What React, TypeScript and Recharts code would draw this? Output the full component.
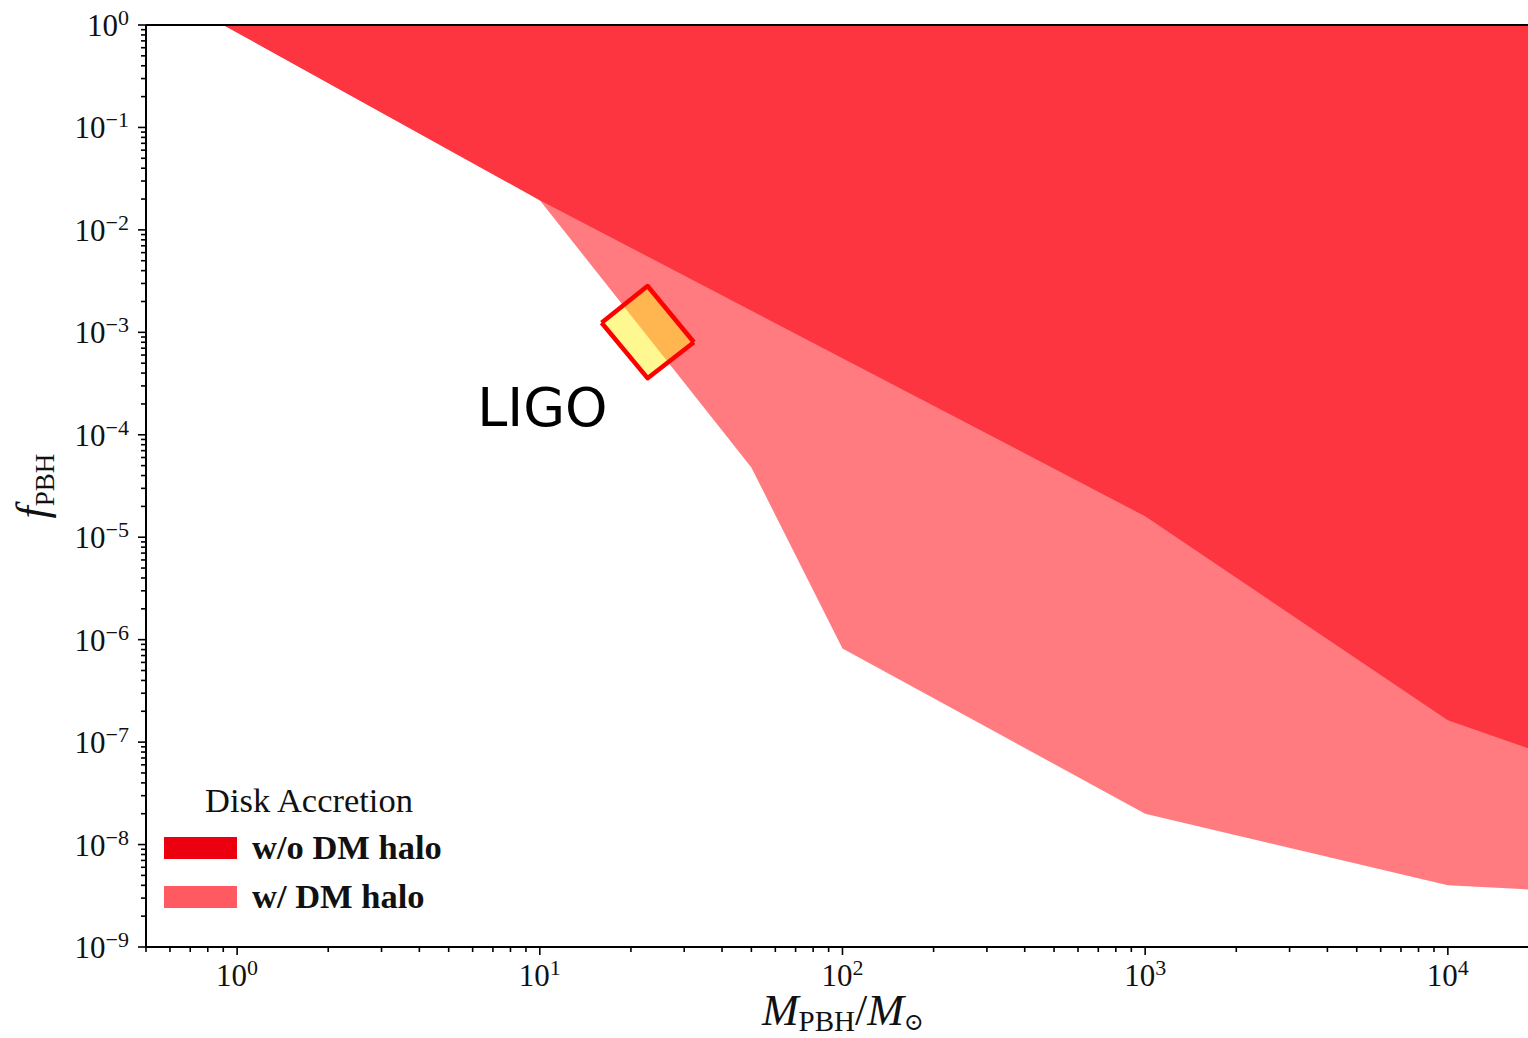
import React from "react";
import {
  Area,
  ComposedChart,
  Legend,
  ReferenceDot,
  ReferenceLine,
  XAxis,
  YAxis,
} from "recharts";

// disk accretion bound without DM halo (boundary below the excluded region)
const massNoHalo = [0.9, 10, 100, 1000, 10000, 18400];
const fNoHalo = [1, 0.0195, 5.6e-4, 1.6e-5, 1.63e-7, 8.7e-8];

// disk accretion bound with DM halo
const massHalo = [0.9, 10, 50, 100, 1000, 10000, 18400];
const fHalo = [1, 0.0195, 4.8e-5, 8.2e-7, 2e-8, 4e-9, 3.65e-9];

// LIGO box corners (left, top/bottom, right)
const ligoMass = [16.0, 22.7, 32.3];
const ligoLow = [1.24e-3, 3.57e-4, 8.0e-4];
const ligoHigh = [1.24e-3, 2.83e-3, 8.0e-4];
const ligoLabel = { mass: 10.2, f: 1.86e-4, text: "LIGO" };

const fTop = 1;
const xDomain = [0.5, 18400];
const yDomain = [1e-9, 1];

const xExponents = [-1, 0, 1, 2, 3, 4];
const yExponents = [-9, -8, -7, -6, -5, -4, -3, -2, -1, 0];

const legendTitle = "Disk Accretion";
const legendNames = ["w/o DM halo", "w/ DM halo"];
const legendColors = ["#ec0010", "#ff5961"];

const regionNoHalo = "#fd3541";
const regionHalo = "#ff7b80";

const SERIF = "'Liberation Serif', 'DejaVu Serif', serif";

const noHaloData = massNoHalo.map((m, i) => ({ m, f: [fNoHalo[i], fTop] }));
const haloData = massHalo.map((m, i) => ({ m, f: [fHalo[i], fTop] }));
const ligoData = ligoMass.map((m, i) => ({ m, f: [ligoLow[i], ligoHigh[i]] }));

function logTicks(exps: number[], domain: number[]) {
  const out: number[] = [];
  exps.forEach((k) => {
    for (let mult = 1; mult <= 9; mult++) {
      const v = Number(`${mult}e${k}`);
      if (v >= domain[0] - 1e-12 && v <= domain[1]) out.push(v);
    }
  });
  return out;
}

const xTicks = logTicks(xExponents, xDomain);
const yTicks = logTicks(yExponents, yDomain);

function exponentOf(v: number) {
  const e = Math.log10(v);
  const r = Math.round(e);
  return Math.abs(e - r) < 1e-9 ? r : null;
}

function fmtExp(e: number) {
  return e < 0 ? `\u2212${-e}` : `${e}`;
}

function XTick(props: any) {
  const { x, y, payload } = props;
  const e = exponentOf(payload.value);
  const major = e !== null;
  return (
    <g>
      <line x1={x} x2={x} y1={y} y2={y + (major ? 8 : 5)} stroke="#000" strokeWidth={1.6} />
      {major && (
        <text x={x} y={y + 39} textAnchor="middle" fontFamily={SERIF} fontSize={31} fill="#111">
          10
          <tspan fontSize={22} dy={-11}>
            {fmtExp(e as number)}
          </tspan>
        </text>
      )}
    </g>
  );
}

function YTick(props: any) {
  const { x, y, payload } = props;
  const e = exponentOf(payload.value);
  const major = e !== null;
  return (
    <g>
      <line x1={x - (major ? 8 : 5)} x2={x} y1={y} y2={y} stroke="#000" strokeWidth={1.6} />
      {major && (
        <text x={x - 17} y={y + 11} textAnchor="end" fontFamily={SERIF} fontSize={31} fill="#111">
          10
          <tspan fontSize={22} dy={-11}>
            {fmtExp(e as number)}
          </tspan>
        </text>
      )}
    </g>
  );
}

function XTitle({ viewBox }: any) {
  const cx = viewBox.x + viewBox.width / 2 + 6;
  const y = viewBox.y + 78;
  return (
    <text x={cx} y={y} textAnchor="middle" fontFamily={SERIF} fill="#111">
      <tspan fontSize={44} fontStyle="italic">M</tspan>
      <tspan fontSize={29} dy={6}>PBH</tspan>
      <tspan fontSize={44} dy={-6}>/</tspan>
      <tspan fontSize={44} fontStyle="italic">M</tspan>
      <tspan fontSize={24} dy={5}>⊙</tspan>
    </text>
  );
}

function YTitle({ viewBox }: any) {
  const cy = viewBox.y + viewBox.height / 2;
  const x = viewBox.x + 47;
  return (
    <text
      x={x}
      y={cy}
      transform={`rotate(-90 ${x} ${cy})`}
      textAnchor="middle"
      fontFamily={SERIF}
      fill="#111"
    >
      <tspan fontSize={44} fontStyle="italic">f</tspan>
      <tspan fontSize={27} dy={7}>PBH</tspan>
    </text>
  );
}

function LegendBox() {
  return (
    <svg width={320} height={150}>
      <text x={159} y={42} textAnchor="middle" fontFamily={SERIF} fontSize={34.5} fill="#111">
        {legendTitle}
      </text>
      {legendNames.map((name, i) => (
        <g key={name}>
          <rect x={14} y={67 + i * 49} width={73} height={22} fill={legendColors[i]} />
          <text
            x={102}
            y={89 + i * 49}
            fontFamily={SERIF}
            fontSize={34.5}
            fontWeight="bold"
            fill="#111"
          >
            {name}
          </text>
        </g>
      ))}
    </svg>
  );
}

export default function App() {
  return (
    <div style={{ position: "absolute", left: 0, top: 0, background: "#fff" }}>
      <ComposedChart
        width={1528}
        height={1038}
        margin={{ top: 25, right: 0, bottom: 0, left: 0 }}
      >
        <XAxis
          dataKey="m"
          type="number"
          scale="log"
          domain={xDomain}
          allowDataOverflow
          ticks={xTicks}
          interval={0}
          tick={<XTick />}
          tickLine={false}
          tickSize={0}
          tickMargin={0}
          axisLine={{ stroke: "#000", strokeWidth: 2 }}
          height={91}
          label={{ content: (p: any) => <XTitle viewBox={p.viewBox} /> }}
        />
        <YAxis
          type="number"
          scale="log"
          domain={yDomain}
          allowDataOverflow
          ticks={yTicks}
          interval={0}
          tick={<YTick />}
          tickLine={false}
          tickSize={0}
          tickMargin={0}
          axisLine={{ stroke: "#000", strokeWidth: 2 }}
          width={146}
          label={{ content: (p: any) => <YTitle viewBox={p.viewBox} /> }}
        />
        <Legend
          layout="horizontal"
          verticalAlign="middle"
          align="center"
          wrapperStyle={{ left: 150, top: 770, width: 320, height: 150 }}
          content={() => <LegendBox />}
        />
        <Area
          data={haloData}
          dataKey="f"
          type="linear"
          fill={regionHalo}
          fillOpacity={1}
          stroke="none"
          name="w/ DM halo"
          isAnimationActive={false}
          dot={false}
          activeDot={false}
        />
        <Area
          data={noHaloData}
          dataKey="f"
          type="linear"
          fill={regionNoHalo}
          fillOpacity={1}
          stroke="none"
          name="w/o DM halo"
          isAnimationActive={false}
          dot={false}
          activeDot={false}
        />
        <Area
          data={ligoData}
          dataKey="f"
          type="linear"
          fill="#fff020"
          fillOpacity={0.5}
          stroke="#ff0000"
          strokeWidth={4.5}
          strokeLinejoin="round"
          legendType="none"
          isAnimationActive={false}
          dot={false}
          activeDot={false}
        />
        <ReferenceLine y={fTop} stroke="#000" strokeWidth={2} />
        <ReferenceDot
          x={ligoLabel.mass}
          y={ligoLabel.f}
          r={0}
          fill="none"
          stroke="none"
          label={{
            value: ligoLabel.text,
            position: "center",
            fontSize: 54,
            fill: "#000",
            fontFamily: "'DejaVu Sans', sans-serif",
          }}
        />
      </ComposedChart>
    </div>
  );
}
